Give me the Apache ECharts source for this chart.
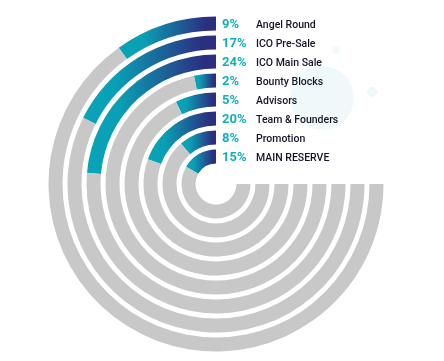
<!DOCTYPE html>
<html>
<head>
<meta charset="utf-8">
<script src="https://cdn.jsdelivr.net/npm/echarts@6/dist/echarts.min.js"></script>
<style>
html,body{margin:0;padding:0;background:#fff;}
#c{width:444px;height:361px;}
</style>
</head>
<body>
<div id="c"></div>
<script>
// outer ring first
const names = ['Angel Round','ICO Pre-Sale','ICO Main Sale','Bounty Blocks','Advisors','Team & Founders','Promotion','MAIN RESERVE'];
const percents = [9, 17, 24, 2, 5, 20, 8, 15];
// drawn arc extent (degrees) as measured in the picture
const arcDegrees = [35.5, 63.5, 85, 11.5, 26, 70, 41, 60];
const trackDegrees = 270;

// radius axis category order: innermost first
const cats = names.slice().reverse();
const arcs = arcDegrees.slice().reverse();
const rest = arcs.map(a => trackDegrees - a);

const chart = echarts.init(document.getElementById('c'), null, {renderer:'canvas'});
const grad = new echarts.graphic.LinearGradient(0, 0, 1, 0, [
  {offset:0, color:'#07a4b7'},
  {offset:0.25, color:'#0a9fb4'},
  {offset:0.9, color:'#2c2e80'},
  {offset:1, color:'#2c2e80'}
]);

chart.setOption({
  animation:false,
  polar:{center:[216,184], radius:[18,170]},
  angleAxis:{type:'value', min:0, max:360, startAngle:90, clockwise:false, show:false},
  radiusAxis:{type:'category', data:cats, show:false},
  series:[
    {type:'bar', coordinateSystem:'polar', data:arcs, barWidth:14, stack:'ring',
     itemStyle:{color:grad}, silent:true},
    {type:'bar', coordinateSystem:'polar', data:rest, barWidth:14, stack:'ring',
     itemStyle:{color:'#c8c8c8'}, silent:true}
  ]
});

const els = [
  {type:'circle', shape:{cx:322, cy:98, r:32}, style:{fill:'#eff9fa'}, z:-10},
  {type:'circle', shape:{cx:336, cy:50, r:3.5}, style:{fill:'#eff9fa'}, z:-10},
  {type:'circle', shape:{cx:372, cy:92, r:5}, style:{fill:'#eff9fa'}, z:-10}
];
names.forEach((n, i) => {
  const p = chart.convertToPixel({seriesIndex:0}, [cats.indexOf(n), 0]);
  const y = p[1] + 1.5;
  els.push({type:'text', x:222, y:y, style:{text:percents[i]+'%', fill:'#12aebf',
    font:'bold 13px Roboto', textVerticalAlign:'middle', textAlign:'left'}, z:10});
  els.push({type:'text', x:256, y:y, style:{text:n, fill:'#15152a',
    font:'500 10.5px Roboto', textVerticalAlign:'middle', textAlign:'left'}, z:10});
});
chart.setOption({graphic:{elements:els}});
</script>
</body>
</html>
